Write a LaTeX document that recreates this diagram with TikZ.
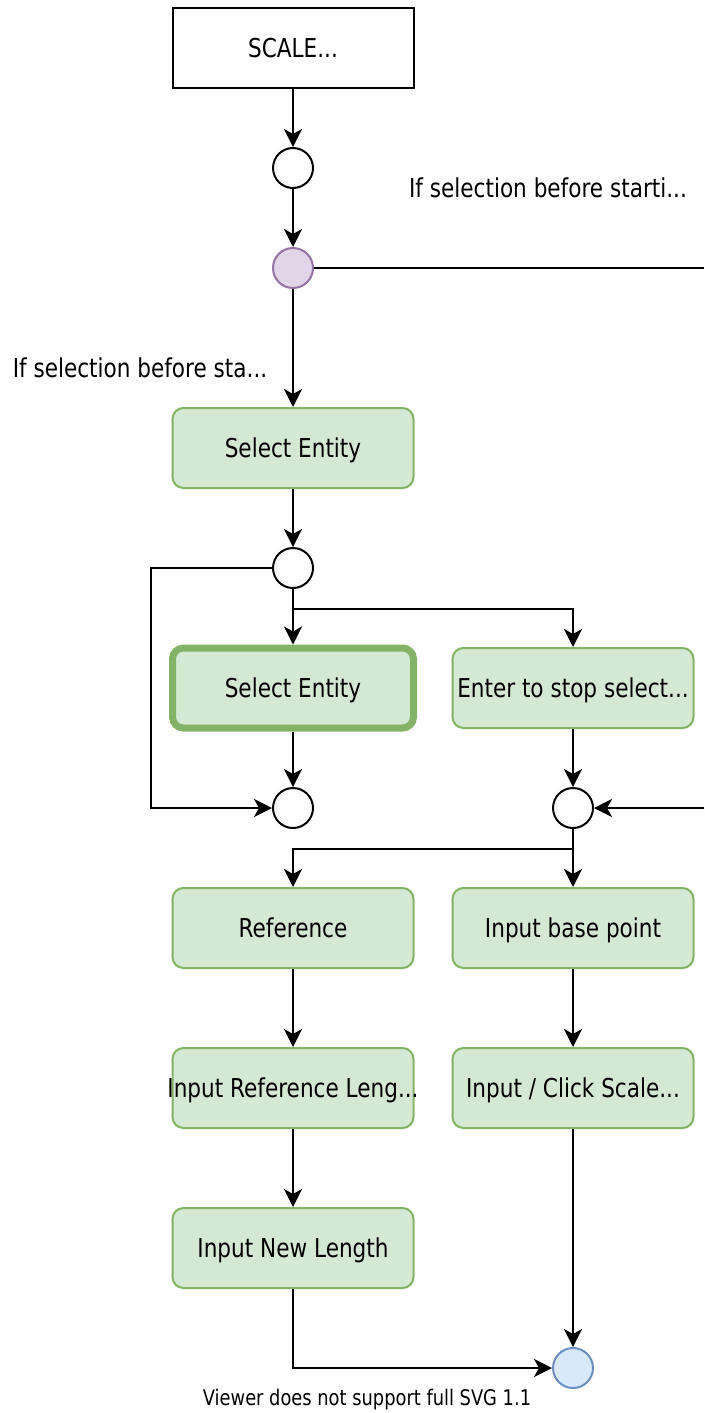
\documentclass[tikz,border=0pt]{standalone}
\usepackage{fontspec}
\usetikzlibrary{arrows.meta,positioning}
\newfontfamily\dvfont[FakeStretch=0.83]{DejaVu Sans}
\newcommand{\nowide}[1]{\makebox[0pt]{#1}}
\definecolor{actfill}{HTML}{D5E8D4}
\definecolor{actline}{HTML}{82B366}
\definecolor{forkfill}{HTML}{E1D5E7}
\definecolor{forkline}{HTML}{9673A6}
\definecolor{endfill}{HTML}{DAE8FC}
\definecolor{endline}{HTML}{6C8EBF}
\begin{document}
\begin{tikzpicture}[x=1pt,y=-1pt]
  \tikzstyle{every node}=[font=\dvfont\fontsize{26}{30}\selectfont,text height=19pt,text depth=0pt]
  \tikzstyle{start}=[rectangle,draw,line width=2pt,minimum width=241pt,minimum height=80pt]
  \tikzstyle{act}=[rectangle,rounded corners=11pt,draw=actline,fill=actfill,line width=2pt,
                   minimum width=241pt,minimum height=80pt,inner sep=0pt]
  \tikzstyle{dot}=[circle,draw,line width=2pt,minimum size=40pt,inner sep=0pt,text height=0pt]
  \tikzstyle{arr}=[line width=2pt,-{Stealth[length=18pt,width=18pt,inset=5pt]}]
  \useasboundingbox (0,0) rectangle (704,1413);
  % left column
  \node[start] (scale) at (293,48) {SCALE...};
  \node[dot] (c1) at (293,168) {};
  \node[dot,fill=forkfill,draw=forkline] (fork) at (293,268) {};
  \node[act] (sel) at (293,448) {Select Entity};
  \node[dot] (c3) at (293,568) {};
  \node[act,line width=7pt] (selagain) at (293,688) {Select Entity};
  \node[dot] (c4) at (293,808) {};
  \node[act] (ref) at (293,928) {Reference};
  \node[act] (reflen) at (293,1088) {\nowide{Input Reference Leng...}};
  \node[act] (newlen) at (293,1248) {Input New Length};
  % right column
  \node[act] (enter) at (573,688) {\nowide{Enter to stop select...}};
  \node[dot] (c5) at (573,808) {};
  \node[act] (base) at (573,928) {Input base point};
  \node[act] (click) at (573,1088) {Input / Click Scale...};
  \node[dot,fill=endfill,draw=endline] (done) at (573,1368) {};
  % labels
  \node (lblA) at (548,188) {If selection before starti...};
  \node (lblB) at (140,368) {If selection before sta...};
  \node[font=\dvfont\fontsize{21.5}{24}\selectfont,text height=15pt] (viewer) at (367,1398) {Viewer does not support full SVG 1.1};
  \coordinate (outA) at (704,268);
  \coordinate (inB) at (704,808);
  % connectors
  \draw[arr] (scale) -- (c1);
  \draw[arr] (c1) -- (fork);
  \draw[line width=2pt] (fork) -- (outA);
  \draw[arr] (fork) -- (sel);
  \draw[arr] (sel) -- (c3);
  \draw[arr] (c3) -- (selagain);
  \draw[arr] (c3.south) -- ++(0,20) -| (enter.north);
  \draw[arr] (c3.west) -- ++(-121,0) |- (c4.west);
  \draw[arr] (selagain) -- (c4);
  \draw[arr] (enter) -- (c5);
  \draw[arr] (inB) -- (c5);
  \draw[arr] (c5) -- (base);
  \draw[arr] (c5.south) -- ++(0,20) -| (ref.north);
  \draw[arr] (ref) -- (reflen);
  \draw[arr] (reflen) -- (newlen);
  \draw[arr] (base) -- (click);
  \draw[arr] (click) -- (done);
  \draw[arr] (newlen.south) |- (done.west);
\end{tikzpicture}
\end{document}
